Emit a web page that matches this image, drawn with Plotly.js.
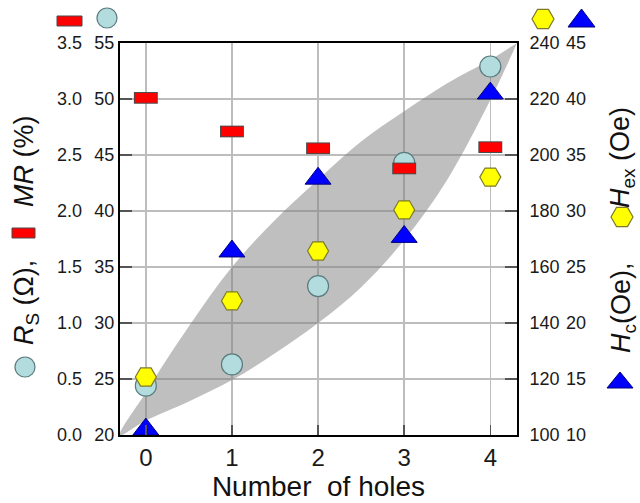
<!DOCTYPE html>
<html>
<head>
<meta charset="utf-8">
<script src="https://cdn.plot.ly/plotly-3.0.1.min.js"></script>
<style>html,body{margin:0;padding:0;background:#fff;}#chart{width:640px;height:503px;}</style>
</head>
<body>
<div id="chart"></div>
<script>
// ---- data ----
const holes = [0, 1, 2, 3, 4];
const tickLabelsX = ['0', '1', '2', '3', '4'];
const rsVals = [0.44, 0.63, 1.33, 2.43, 3.29];      // Rs (Ohm)
const mrVals = [50.1, 47.1, 45.6, 43.8, 45.7];      // MR (%)
const hexVals = [120.7, 147.9, 165.7, 180.4, 192.1]; // Hex (Oe)
const hcVals = [10.5, 26.4, 32.9, 27.7, 40.5];      // Hc (Oe)
// grey band (in Rs units)
const bandUpperX = [-0.3, 0, 0.5, 1, 1.5, 2, 2.5, 3, 3.5, 4, 4.31];
const bandUpperY = [0, 0.38, 0.97, 1.50, 1.92, 2.28, 2.62, 2.89, 3.14, 3.35, 3.5];
const bandLowerX = [-0.3, 0, 0.5, 1, 1.5, 2, 2.5, 3, 3.5, 4, 4.31];
const bandLowerY = [0, 0.13, 0.30, 0.49, 0.73, 1.0, 1.32, 1.74, 2.28, 2.99, 3.5];

const FONT = 'Liberation Sans, Arial, sans-serif';
const L = 40, R = 20, T = 43, B = 68, W = 640 - L - R, H = 503 - T - B;
const X = px => (px - L) / W;
const Y = py => (503 - B - py) / H;

const bandX = bandUpperX.concat(bandLowerX.slice().reverse());
const bandY = bandUpperY.concat(bandLowerY.slice().reverse());

const traces = [
  {x: bandX, y: bandY, yaxis: 'y', mode: 'lines', fill: 'toself',
   fillcolor: 'rgba(128,128,128,0.5)', line: {width: 0, shape: 'spline', smoothing: 1}, hoverinfo: 'skip'},
  {x: holes, y: mrVals, yaxis: 'y2', mode: 'markers', cliponaxis: false,
   marker: {symbol: 'line-ew', size: 17.1, color: '#4a4a4a', line: {width: 11.7, color: '#4a4a4a'}}},
  {x: holes, y: mrVals, yaxis: 'y2', mode: 'markers', cliponaxis: false,
   marker: {symbol: 'line-ew', size: 15.7, color: '#ff0000', line: {width: 9.7, color: '#ff0000'}}},
  {x: holes, y: rsVals, yaxis: 'y', mode: 'markers', cliponaxis: false,
   marker: {symbol: 'circle', size: 21, color: '#b3dcdf', line: {width: 1.2, color: '#5b7c7e'}}},
  {x: holes, y: hexVals, yaxis: 'y3', mode: 'markers', cliponaxis: false,
   marker: {symbol: 'hexagon2', size: 21, color: '#ffff00', line: {width: 1.2, color: '#7d7a2a'}}},
  {x: holes, y: hcVals, yaxis: 'y4', mode: 'markers', cliponaxis: false,
   marker: {symbol: 'triangle-up', size: 22.5, color: '#0000ff', line: {width: 1, color: '#00007a'}}}
];

function rectShape(x0, y0, x1, y1) {
  return {type: 'rect', xref: 'paper', yref: 'paper', x0: X(x0), x1: X(x1), y0: Y(y1), y1: Y(y0),
          fillcolor: '#ff0000', line: {color: '#4a4a4a', width: 1}};
}
function circleShape(cx, cy, r) {
  return {type: 'circle', xref: 'paper', yref: 'paper', x0: X(cx - r), x1: X(cx + r), y0: Y(cy + r), y1: Y(cy - r),
          fillcolor: '#b3dcdf', line: {color: '#5b7c7e', width: 1.2}};
}
function hexShape(cx, cy, a) {
  const h = a * 0.866;
  const p = [[cx - a, cy], [cx - a / 2, cy - h], [cx + a / 2, cy - h], [cx + a, cy], [cx + a / 2, cy + h], [cx - a / 2, cy + h]];
  return {type: 'path', xref: 'paper', yref: 'paper',
          path: 'M' + p.map(q => X(q[0]) + ',' + Y(q[1])).join('L') + 'Z',
          fillcolor: '#ffff00', line: {color: '#7d7a2a', width: 1.2}};
}
function triShape(x0, x1, ytop, ybot) {
  const cx = (x0 + x1) / 2;
  return {type: 'path', xref: 'paper', yref: 'paper',
          path: 'M' + X(x0) + ',' + Y(ybot) + 'L' + X(x1) + ',' + Y(ybot) + 'L' + X(cx) + ',' + Y(ytop) + 'Z',
          fillcolor: '#0000ff', line: {color: '#00007a', width: 1}};
}

const shapes = [
  rectShape(57, 16, 82, 26), circleShape(107, 18, 10),
  hexShape(543, 19, 11), triShape(568, 595, 9, 27),
  rectShape(12, 228, 35, 238), circleShape(25, 367, 10),
  hexShape(622, 217, 11), triShape(607, 633, 372, 388)
];

const titleFont = {family: FONT, size: 27, color: '#111'};
const annotations = [
  {text: '<i>MR</i> (%)', xref: 'paper', yref: 'paper', x: X(24), y: Y(161), textangle: -90,
   showarrow: false, xanchor: 'center', yanchor: 'middle', font: titleFont},
  {text: '<i>R</i><sub>S</sub> (Ω),', xref: 'paper', yref: 'paper', x: X(26), y: Y(303), textangle: -90,
   showarrow: false, xanchor: 'center', yanchor: 'middle', font: titleFont},
  {text: '<i>H</i><sub>ex</sub> (Oe)', xref: 'paper', yref: 'paper', x: X(622), y: Y(157), textangle: -90,
   showarrow: false, xanchor: 'center', yanchor: 'middle', font: titleFont},
  {text: '<i>H</i><sub>c</sub>(Oe),', xref: 'paper', yref: 'paper', x: X(623), y: Y(308), textangle: -90,
   showarrow: false, xanchor: 'center', yanchor: 'middle', font: titleFont}
];

const tickFont = {family: FONT, size: 18, color: '#1a1a1a'};
const gridC = '#bdbdbd';
const layout = {
  width: 640, height: 503,
  margin: {l: L, r: R, t: T, b: B},
  paper_bgcolor: '#ffffff', plot_bgcolor: '#ffffff',
  showlegend: false,
  font: {family: FONT},
  xaxis: {domain: [X(120), X(517)], range: [-0.3, 4.31], tickvals: holes, ticktext: tickLabelsX,
          ticks: 'inside', ticklen: 10, tickwidth: 1.5, tickcolor: '#555',
          showgrid: true, gridcolor: gridC, gridwidth: 1.5, zeroline: false,
          showline: true, mirror: true, linecolor: '#000', linewidth: 2,
          tickfont: {family: FONT, size: 24, color: '#1a1a1a'},
          title: {text: 'Number\u00a0\u00a0of holes', font: {family: FONT, size: 28, color: '#111'}, standoff: 5}},
  yaxis: {range: [0, 3.5], tick0: 0, dtick: 0.5, tickformat: '.1f', anchor: 'free', position: X(82),
          ticks: '', showline: false, showgrid: true, gridcolor: gridC, gridwidth: 1.5, zeroline: false,
          tickfont: tickFont},
  yaxis2: {overlaying: 'y', anchor: 'x', side: 'left', range: [20, 55], tick0: 20, dtick: 5,
           ticks: 'inside', ticklen: 12, tickwidth: 1.5, tickcolor: '#555',
           showline: true, linecolor: '#000', linewidth: 2, showgrid: false, zeroline: false, tickfont: tickFont},
  yaxis3: {overlaying: 'y', anchor: 'x', side: 'right', range: [100, 240], tick0: 100, dtick: 20,
           ticks: 'inside', ticklen: 12, tickwidth: 1.5, tickcolor: '#555', ticklabelstandoff: 7,
           showline: true, linecolor: '#000', linewidth: 2, showgrid: false, zeroline: false, tickfont: tickFont},
  yaxis4: {overlaying: 'y', anchor: 'free', side: 'right', position: X(565), range: [10, 45], tick0: 10, dtick: 5,
           ticks: '', showline: false, showgrid: false, zeroline: false, tickfont: tickFont},
  shapes: shapes,
  annotations: annotations
};

Plotly.newPlot('chart', traces, layout, {staticPlot: true, displayModeBar: false});
</script>
</body>
</html>
